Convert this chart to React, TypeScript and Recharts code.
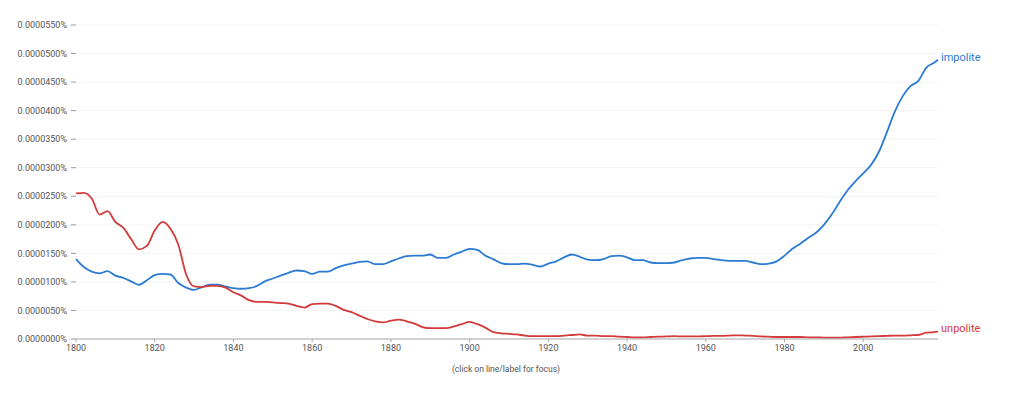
import { LineChart, Line, XAxis, YAxis, CartesianGrid } from 'recharts';

// values in units of 0.000001 %
const YEARS = [
  1800, 1802, 1804, 1806, 1808, 1810, 1812, 1814, 1816, 1818,
  1820, 1822, 1824, 1826, 1828, 1830, 1832, 1834, 1836, 1838,
  1840, 1842, 1844, 1846, 1848, 1850, 1852, 1854, 1856, 1858,
  1860, 1862, 1864, 1866, 1868, 1870, 1872, 1874, 1876, 1878,
  1880, 1882, 1884, 1886, 1888, 1890, 1892, 1894, 1896, 1898,
  1900, 1902, 1904, 1906, 1908, 1910, 1912, 1914, 1916, 1918,
  1920, 1922, 1924, 1926, 1928, 1930, 1932, 1934, 1936, 1938,
  1940, 1942, 1944, 1946, 1948, 1950, 1952, 1954, 1956, 1958,
  1960, 1962, 1964, 1966, 1968, 1970, 1972, 1974, 1976, 1978,
  1980, 1982, 1984, 1986, 1988, 1990, 1992, 1994, 1996, 1998,
  2000, 2002, 2004, 2006, 2008, 2010, 2012, 2014, 2016, 2018,
  2019,
];

const IMPOLITE = [
  14.0, 12.6, 11.8, 11.5, 11.9, 11.1, 10.7, 10.1, 9.5, 10.3,
  11.2, 11.4, 11.3, 9.8, 9.0, 8.6, 9.1, 9.5, 9.5, 9.2,
  8.9, 8.8, 8.9, 9.3, 10.1, 10.6, 11.1, 11.6, 12.0, 11.9,
  11.4, 11.8, 11.8, 12.4, 12.9, 13.2, 13.5, 13.6, 13.1, 13.1,
  13.6, 14.1, 14.5, 14.6, 14.6, 14.8, 14.2, 14.2, 14.8, 15.3,
  15.8, 15.6, 14.6, 14.0, 13.3, 13.1, 13.1, 13.2, 13.0, 12.7,
  13.2, 13.6, 14.3, 14.8, 14.4, 13.9, 13.8, 14.0, 14.5, 14.6,
  14.3, 13.8, 13.8, 13.4, 13.3, 13.3, 13.4, 13.8, 14.1, 14.2,
  14.2, 14.0, 13.8, 13.7, 13.7, 13.7, 13.4, 13.1, 13.2, 13.6,
  14.6, 15.8, 16.7, 17.7, 18.6, 20.0, 21.8, 24.0, 26.0, 27.6,
  29.0, 30.5, 32.8, 36.2, 39.8, 42.5, 44.3, 45.2, 47.5, 48.4,
  48.9,
];

const UNPOLITE = [
  25.5, 25.6, 24.6, 21.8, 22.4, 20.5, 19.5, 17.5, 15.7, 16.3,
  19.0, 20.5, 19.3, 16.5, 11.3, 9.2, 9.1, 9.3, 9.3, 9.0,
  8.2, 7.6, 6.8, 6.5, 6.5, 6.4, 6.3, 6.2, 5.8, 5.5,
  6.1, 6.2, 6.2, 5.8, 5.1, 4.7, 4.1, 3.5, 3.1, 2.9,
  3.2, 3.4, 3.1, 2.7, 2.1, 1.9, 1.9, 1.9, 2.2, 2.6,
  3.0, 2.6, 2.0, 1.2, 1.0, 0.9, 0.8, 0.6, 0.5, 0.5,
  0.5, 0.5, 0.6, 0.7, 0.8, 0.6, 0.6, 0.5, 0.5, 0.4,
  0.35, 0.3, 0.3, 0.35, 0.4, 0.45, 0.5, 0.45, 0.45, 0.45,
  0.5, 0.55, 0.55, 0.6, 0.65, 0.6, 0.55, 0.45, 0.4, 0.35,
  0.35, 0.35, 0.35, 0.3, 0.3, 0.25, 0.25, 0.25, 0.3, 0.35,
  0.4, 0.45, 0.5, 0.55, 0.6, 0.6, 0.65, 0.7, 1.1, 1.2,
  1.3,
];

const X_TICKS = [1800, 1820, 1840, 1860, 1880, 1900, 1920, 1940, 1960, 1980, 2000];
const Y_TICKS = [0, 5, 10, 15, 20, 25, 30, 35, 40, 45, 50, 55];

const BLUE = '#2b7bd3';
const RED = '#d33a3a';

const data = YEARS.map((year, i) => ({
  year,
  impolite: IMPOLITE[i],
  unpolite: UNPOLITE[i],
}));

const fmtPct = (v: number) => (v * 1e-6).toFixed(7) + '%';

function endLabel(name: string, color: string) {
  return (props: any) => {
    const { x, y, index } = props;
    if (index !== YEARS.length - 1) return null;
    return (
      <text x={x + 3} y={y - 3} dy="0.35em" fill={color} fontSize={11} fontFamily="Roboto">
        {name}
      </text>
    );
  };
}

export default function App() {
  return (
    <div style={{ position: 'absolute', left: 0, top: 0, width: 1024, height: 395, background: '#fff', fontFamily: 'Roboto' }}>
      <LineChart
        width={1024}
        height={395}
        data={data}
        margin={{ top: 25, right: 86, bottom: 26, left: 0 }}
      >
        <CartesianGrid vertical={false} stroke="#f3f3f3" />
        <XAxis
          dataKey="year"
          type="number"
          domain={[1800, 2019]}
          ticks={X_TICKS}
          height={30}
          tick={{ fill: '#555', fontSize: 9, fontFamily: 'Roboto' }}
          tickSize={3}
          tickMargin={3}
          stroke="#aaa"
        />
        <YAxis
          width={76}
          domain={[0, 55]}
          ticks={Y_TICKS}
          tickFormatter={fmtPct}
          axisLine={false}
          tickSize={5}
          tickMargin={4}
          tickLine={{ stroke: '#999' }}
          tick={{ fill: '#555', fontSize: 9, fontFamily: 'Roboto' }}
          interval={0}
        />
        <Line
          type="monotone"
          dataKey="impolite"
          stroke={BLUE}
          strokeWidth={1.8}
          dot={false}
          isAnimationActive={false}
          label={endLabel('impolite', BLUE)}
        />
        <Line
          type="monotone"
          dataKey="unpolite"
          stroke={RED}
          strokeWidth={1.8}
          dot={false}
          isAnimationActive={false}
          label={endLabel('unpolite', RED)}
        />
      </LineChart>
      <div
        style={{
          position: 'absolute',
          left: 0,
          width: 1012,
          top: 364,
          textAlign: 'center',
          fontSize: 8.5,
          color: '#555',
        }}
      >
        (click on line/label for focus)
      </div>
    </div>
  );
}
